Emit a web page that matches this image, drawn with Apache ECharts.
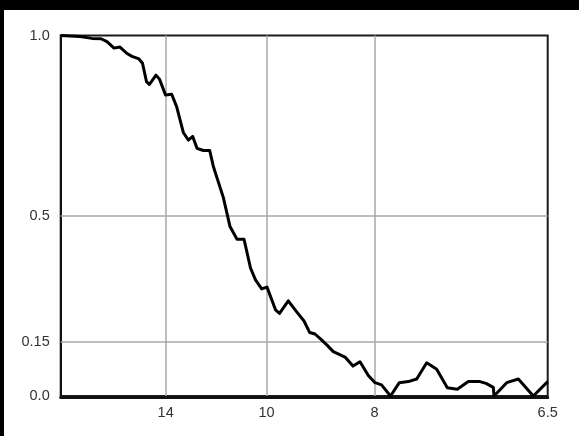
<!DOCTYPE html>
<html>
<head>
<meta charset="utf-8">
<script src="https://cdn.jsdelivr.net/npm/echarts@6/dist/echarts.min.js"></script>
<style>
  html, body { margin: 0; padding: 0; background: #000; }
  #chart { position: absolute; left: 4px; top: 10px; width: 575px; height: 426px; background: #fff; }
</style>
</head>
<body>
<div id="chart"></div>
<script>
// x: spatial frequency squared (10^-3 / Å^2); labels show resolution in Å
const xValues = [0, 0.938, 1.521, 1.959, 2.250, 2.591, 2.882, 3.222, 3.466, 3.806,
  3.976, 4.170, 4.306, 4.632, 4.802, 5.094, 5.395, 5.638, 5.959, 6.202,
  6.416, 6.625, 6.931, 7.242, 7.427, 7.903, 8.229, 8.569, 8.909, 9.225,
  9.468, 9.770, 10.027, 10.440, 10.635, 11.062, 11.461, 11.826, 12.103, 12.360,
  12.652, 12.943, 13.250, 13.818, 14.207, 14.547, 14.951, 15.277, 15.592, 16.030,
  16.458, 16.895, 17.303, 17.789, 18.275, 18.791, 19.277, 19.811, 20.380, 20.672,
  21.026, 21.061, 21.678, 22.242, 22.971, 23.67];
const fscValues = [1.000, 0.997, 0.992, 0.991, 0.983, 0.965, 0.968, 0.950, 0.942, 0.935,
  0.923, 0.872, 0.864, 0.890, 0.879, 0.835, 0.837, 0.802, 0.731, 0.710,
  0.720, 0.687, 0.681, 0.681, 0.635, 0.551, 0.470, 0.435, 0.435, 0.355,
  0.322, 0.297, 0.302, 0.239, 0.229, 0.264, 0.234, 0.208, 0.176, 0.172,
  0.157, 0.141, 0.123, 0.108, 0.083, 0.095, 0.057, 0.037, 0.031, 0.000,
  0.037, 0.040, 0.047, 0.092, 0.074, 0.023, 0.019, 0.040, 0.040, 0.035,
  0.024, 0.000, 0.037, 0.047, 0.000, 0.040];

const xMin = 0, xMax = 23.67;
const xTickValues = [5.102, 10.0, 15.25, 23.67];
const xTickLabels = ['14', '10', '8', '6.5'];
const xGridValues = [5.102, 10.0, 15.25];

const yMin = 0, yMax = 1.0;
const yTickValues = [0, 0.15, 0.5, 1.0];
const yTickLabels = ['0.0', '0.15', '0.5', '1.0'];
const yGridValues = [0.15, 0.5];

function labelFor(values, labels) {
  return function (v) {
    for (let i = 0; i < values.length; i++) {
      if (Math.abs(values[i] - v) < 1e-6) return labels[i];
    }
    return '';
  };
}

const chart = echarts.init(document.getElementById('chart'), null, { renderer: 'canvas' });
const gridStyle = { color: '#a8a8a8', width: 1.5, type: 'solid' };
const labelFont = { color: '#333', fontSize: 14.5, fontFamily: 'Liberation Sans, Arial, sans-serif' };
chart.setOption({
  animation: false,
  backgroundColor: '#fff',
  grid: {
    left: 56.7, top: 25.5, right: 31.3, bottom: 40,
    show: true, borderColor: '#1a1a1a', borderWidth: 2, backgroundColor: 'transparent'
  },
  xAxis: {
    type: 'value', min: xMin, max: xMax, offset: 1.5,
    axisLine: { show: true, onZero: false, lineStyle: { color: '#111', width: 3 } },
    axisTick: { show: false, customValues: xTickValues },
    splitLine: { show: false },
    axisLabel: Object.assign({
      customValues: xTickValues, formatter: labelFor(xTickValues, xTickLabels), margin: 8
    }, labelFont)
  },
  yAxis: {
    type: 'value', min: yMin, max: yMax,
    axisLine: { show: true, onZero: false, lineStyle: { color: '#111', width: 2 } },
    axisTick: { show: false, customValues: yTickValues },
    splitLine: { show: false },
    axisLabel: Object.assign({
      customValues: yTickValues, formatter: labelFor(yTickValues, yTickLabels), margin: 11
    }, labelFont)
  },
  series: [
    {
      type: 'line', data: [], silent: true,
      markLine: {
        silent: true, symbol: ['none', 'none'], label: { show: false },
        lineStyle: gridStyle, animation: false,
        data: xGridValues.map(v => ({ xAxis: v })).concat(yGridValues.map(v => ({ yAxis: v })))
      }
    },
    {
      type: 'line',
      data: xValues.map((x, i) => [x, fscValues[i]]),
      showSymbol: false, symbol: 'none',
      lineStyle: { color: '#000', width: 3, join: 'round' },
      z: 5
    }
  ]
});
</script>
</body>
</html>
